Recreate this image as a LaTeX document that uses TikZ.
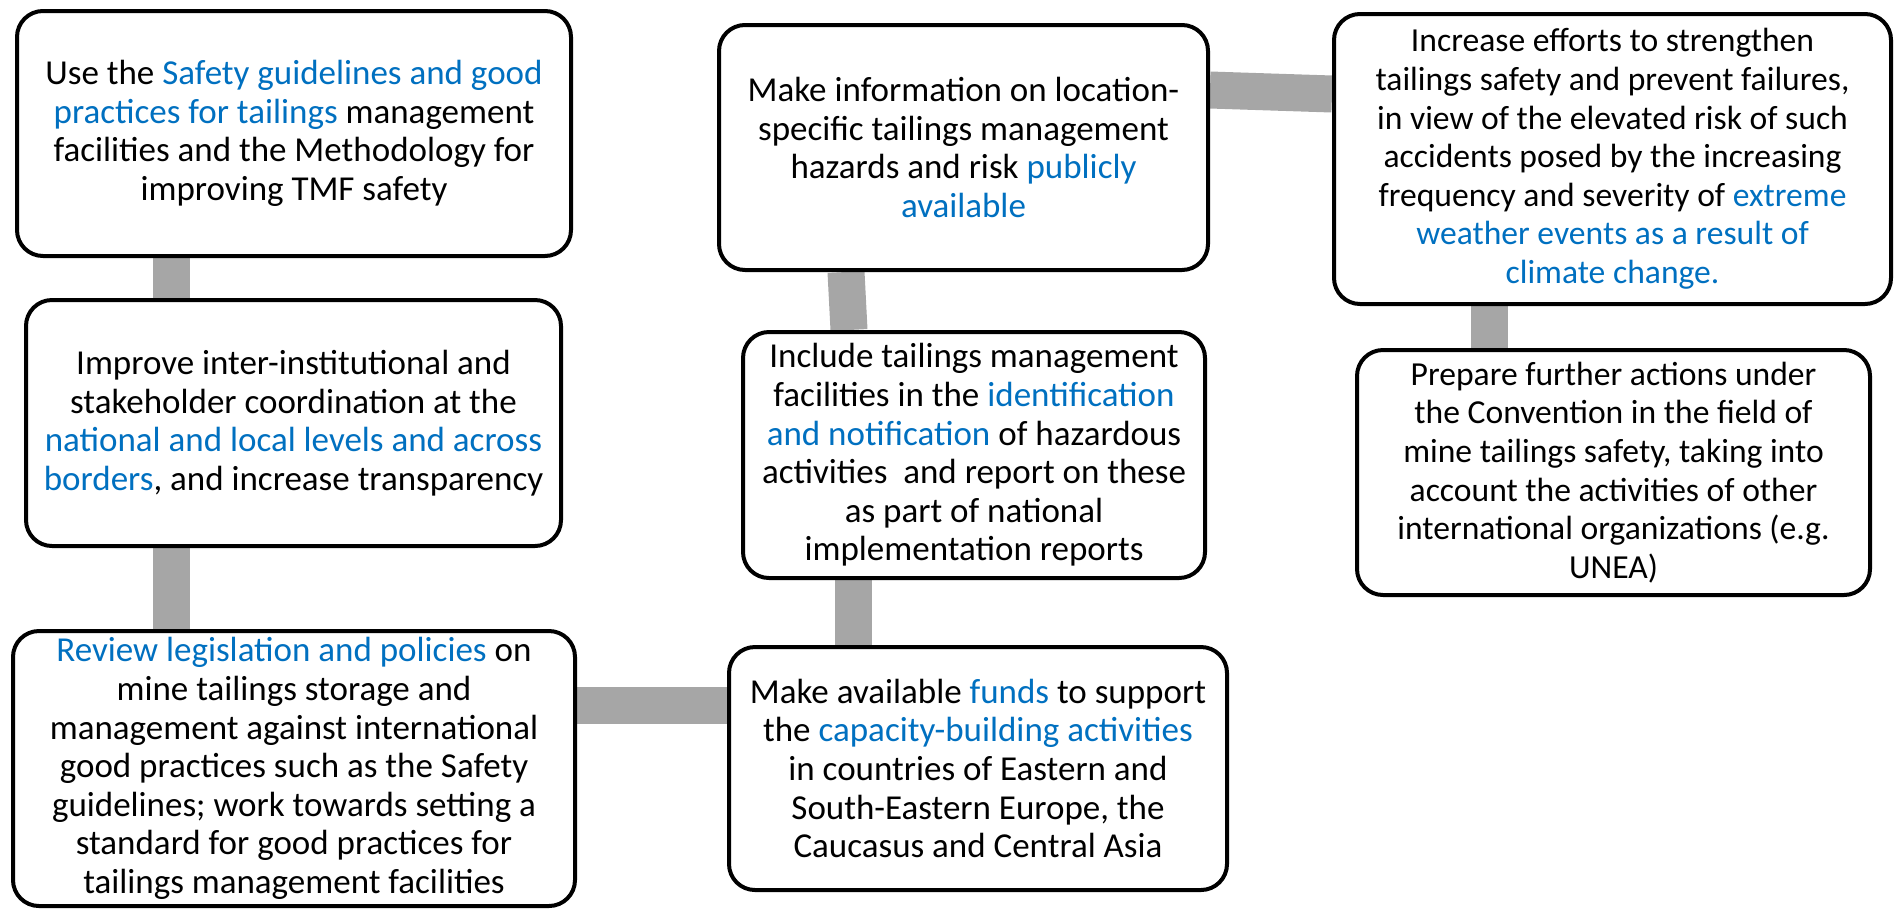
\documentclass[tikz,border=0pt]{standalone}
\usepackage{fontspec}
\setmainfont{Carlito}
\usetikzlibrary{backgrounds}
\definecolor{hlblue}{HTML}{0070C0}
\definecolor{conngray}{HTML}{A6A6A6}
\newcommand{\hl}[1]{\textcolor{hlblue}{#1}}
\tikzset{
  box/.style={draw=black, line width=2pt, rounded corners=13pt, fill=white,
    align=center, inner sep=0pt, font=\fontsize{17.5}{19.3}\selectfont},
  boxr/.style={box, font=\fontsize{16.8}{19.3}\selectfont},
  conn/.style={draw=conngray, line width=18.5pt}
}
\begin{document}
\begin{tikzpicture}[x=0.5pt, y=-0.5pt]
\useasboundingbox (0,0) rectangle (1898,911);

\node[box, minimum width=277pt, minimum height=122.5pt] (b1) at (294,133.5)
 {Use the \hl{Safety guidelines and good}\\
  \hl{practices for tailings} management\\
  facilities and the Methodology for\\
  improving TMF safety};

\node[box, minimum width=267.5pt, minimum height=123pt] (b2) at (293.5,423)
 {Improve inter-institutional and\\
  stakeholder coordination at the\\
  \hl{national and local levels and across}\\
  \hl{borders}, and increase transparency};

\node[box, minimum width=281pt, minimum height=137.5pt] (b3) at (294,768.5)
 {\hl{Review legislation and policies} on\\
  mine tailings storage and\\
  management against international\\
  good practices such as the Safety\\
  guidelines; work towards setting a\\
  standard for good practices for\\
  tailings management facilities};

\node[box, minimum width=244.5pt, minimum height=122.5pt] (b4) at (963.5,147.5)
 {Make information on location-\\
  specific tailings management\\
  hazards and risk \hl{publicly}\\
  \hl{available}};

\node[box, minimum width=231pt, minimum height=123pt] (b5) at (974,455)
 {Include tailings management\\
  facilities in the \hl{identification}\\
  \hl{and notification} of hazardous\\
  activities\ \ and report on these\\
  as part of national\\
  implementation reports};

\node[box, minimum width=249pt, minimum height=121.5pt] (b6) at (978,768.5)
 {Make available \hl{funds} to support\\
  the \hl{capacity-building activities}\\
  in countries of Eastern and\\
  South-Eastern Europe, the\\
  Caucasus and Central Asia};

\node[boxr, minimum width=278.5pt, minimum height=145pt] (b7) at (1612.5,159)
 {Increase efforts to strengthen\\
  tailings safety and prevent failures,\\
  in view of the elevated risk of such\\
  accidents posed by the increasing\\
  frequency and severity of \hl{extreme}\\
  \hl{weather events as a result of}\\
  \hl{climate change.}};

\node[boxr, minimum width=256.5pt, minimum height=122.5pt] (b8) at (1613.5,472.5)
 {Prepare further actions under\\
  the Convention in the field of\\
  mine tailings safety, taking into\\
  account the activities of other\\
  international organizations (e.g.\\
  UNEA)};

\coordinate (x12) at (171,0);
\coordinate (x45a) at (846,0);
\coordinate (x45b) at (849,0);
\coordinate (x56) at (853,0);
\coordinate (x78) at (1489,0);
\coordinate (y36) at (0,705);
\coordinate (y47a) at (0,90);
\coordinate (y47b) at (0,94);

\begin{scope}[on background layer]
\draw[conn] (b1.south -| x12) -- (b2.north -| x12);
\draw[conn] (b2.south -| x12) -- (b3.north -| x12);
\draw[conn] (b3.east |- y36) -- (b6.west |- y36);
\draw[conn] (b4.south -| x45a) -- (b5.north -| x45b);
\draw[conn] (b5.south -| x56) -- (b6.north -| x56);
\draw[conn] (b4.east |- y47a) -- (b7.west |- y47b);
\draw[conn] (b7.south -| x78) -- (b8.north -| x78);
\end{scope}
\end{tikzpicture}
\end{document}
